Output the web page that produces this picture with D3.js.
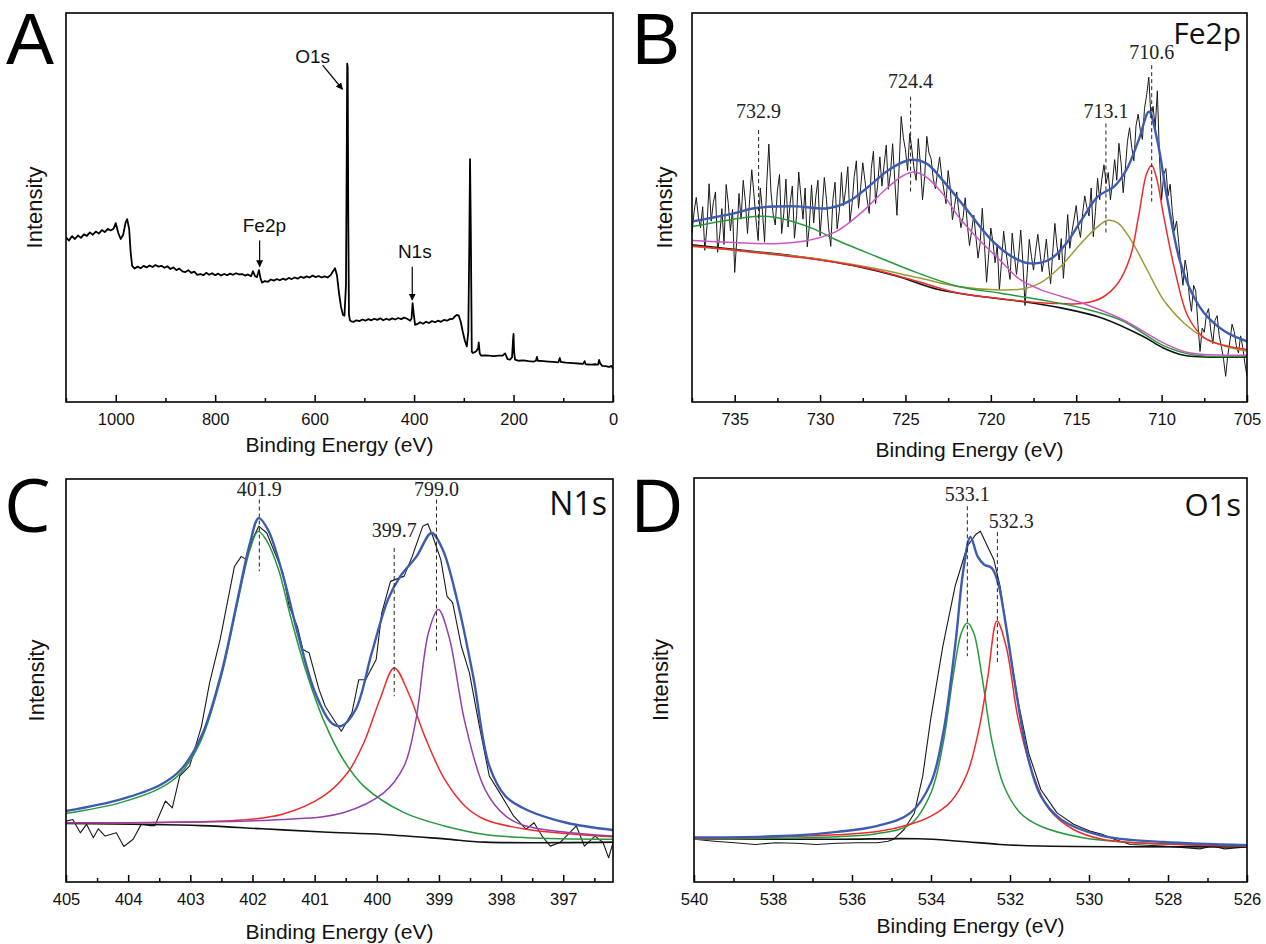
<!DOCTYPE html>
<html>
<head>
<meta charset="utf-8">
<script src="https://cdn.jsdelivr.net/npm/d3@7"></script>
<style>
  body { margin: 0; background: #fff; }
  svg { display: block; }
</style>
</head>
<body>
<div id="chart"></div>
<script>
// ---- Panel A: survey spectrum, [binding energy, intensity] ----
var surveyData = [
  [1100,42.3],[1094,41.5],[1088,42.6],[1082,41.9],[1076,42.8],[1070,42.2],[1064,43.1],[1058,42.7],
  [1052,43.6],[1046,43.0],[1040,43.8],[1034,43.3],[1028,44.2],[1022,43.7],[1016,44.5],[1010,44.1],
  [1004,44.6],[1000,46.0],[995,43.5],[990,41.9],[985,43.0],[980,46.2],[977,47.0],[973,44.5],
  [970,38.5],[967,35.0],[962,34.3],[956,34.8],[950,34.4],[944,35.0],[938,34.6],[932,35.1],
  [926,34.7],[920,35.2],[914,34.8],[908,35.0],[902,34.5],[896,34.9],[890,34.2],[884,34.6],
  [878,33.9],[872,34.3],[866,33.6],[860,33.4],[854,33.9],[848,33.2],[842,33.5],[836,32.7],
  [830,32.9],[824,32.6],[818,33.2],[812,32.7],[806,33.1],[800,32.6],[794,33.0],[788,32.5],
  [782,32.9],[776,32.6],[770,33.0],[764,32.7],[758,33.1],[752,32.8],[746,32.9],[740,32.5],
  [734,32.8],[728,32.3],[724,33.6],[720,32.4],[716,32.1],[712,33.9],[709,31.9],[706,30.7],
  [700,31.1],[694,30.9],[688,31.5],[682,31.2],[676,31.6],[670,31.3],[664,31.7],[658,31.4],
  [652,31.9],[646,31.6],[640,32.0],[634,31.7],[628,32.2],[622,31.9],[616,32.3],[610,32.0],
  [604,32.5],[598,32.1],[592,32.4],[586,32.0],[580,32.3],[574,32.0],[568,32.6],[563,33.6],
  [559,34.4],[555,32.5],[551,28.0],[547,24.5],[543,22.4],[540,22.2],[537,30.0],[535.5,62.0],
  [534.5,87.0],[533.5,86.0],[532.5,50.0],[531,22.5],[529,21.0],[526,20.7],[522,20.6],[516,21.0],
  [510,20.8],[504,21.2],[498,20.9],[492,21.3],[486,21.0],[480,21.4],[474,21.1],[468,21.5],
  [462,21.0],[456,21.4],[450,21.1],[444,21.5],[438,21.2],[432,21.6],[426,21.3],[420,21.7],
  [414,21.4],[408,20.9],[405,21.5],[403,25.4],[401,23.0],[398,19.8],[394,20.0],[388,20.5],
  [382,20.1],[376,20.6],[370,20.3],[364,20.8],[358,20.5],[352,20.9],[346,20.6],[340,21.1],
  [334,20.9],[328,21.3],[322,21.4],[318,22.0],[314,22.4],[310,22.2],[306,20.5],[302,18.0],
  [298,15.8],[294,14.3],[291,18.0],[289,40.0],[287.5,62.4],[286,45.0],[284,13.0],[282,12.6],
  [278,12.8],[274,13.2],[271,14.0],[270,15.3],[268,12.5],[265,11.9],[258,12.0],[250,11.9],
  [240,11.8],[230,11.9],[222,11.9],[217,12.5],[212,11.0],[207,10.9],[203,11.5],[201,16.0],
  [200,17.5],[199,13.0],[197,10.9],[190,10.6],[180,10.7],[170,10.5],[160,10.4],[155,10.6],
  [153,11.6],[151,10.6],[140,10.5],[130,10.4],[120,10.3],[110,10.2],[107,11.3],[105,10.3],
  [95,10.1],[80,10.0],[70,9.9],[60,9.8],[57,10.5],[55,9.7],[45,9.6],[35,9.7],[30,9.6],
  [28,10.8],[26,10.0],[22,9.3],[15,9.2],[8,9.0],[3,9.3],[0,8.5]
];
// survey annotations: label, label position, arrow start, arrow tip (data units)
var surveyLabels = [
  {text: "O1s",  lx: 604, ly: 87.1, from: [584, 86.6], to: [544, 80.4]},
  {text: "Fe2p", lx: 701, ly: 43.8, from: [710.6, 41.5], to: [710.6, 34.8]},
  {text: "N1s",  lx: 398.6, ly: 37.0, from: [403.7, 34.8], to: [403.7, 26.2]}
];

// ---- Panel B: Fe2p ----
var fe2pRaw = [
  [737.5,43.4],[737.375,49.0],[737.25,52.6],[737.125,47.5],[737,44.8],[736.875,50.2],[736.75,39.0],[736.625,45.0],
  [736.5,56.1],[736.375,46.5],[736.25,51.3],[736.125,54.0],[736,38.5],[735.875,43.0],[735.75,49.7],[735.625,40.5],
  [735.5,55.9],[735.375,51.0],[735.25,44.0],[735.125,49.5],[735,33.3],[734.875,42.0],[734.75,53.6],[734.625,47.0],
  [734.5,57.0],[734.375,51.5],[734.25,43.3],[734.125,52.0],[734,59.7],[733.875,53.5],[733.75,46.8],[733.625,41.5],
  [733.5,55.0],[733.375,49.0],[733.25,41.1],[733.125,56.0],[733,66.3],[732.875,54.0],[732.75,48.3],[732.625,45.5],
  [732.5,54.3],[732.375,58.5],[732.25,43.3],[732.125,48.5],[732,57.3],[731.875,45.0],[731.75,51.2],[731.625,55.5],
  [731.5,42.1],[731.375,48.0],[731.25,59.1],[731.125,53.0],[731,47.0],[730.875,55.0],[730.75,39.9],[730.625,45.5],
  [730.5,55.8],[730.375,46.0],[730.25,52.8],[730.125,57.0],[730,42.7],[729.875,50.0],[729.75,57.7],[729.625,52.0],
  [729.5,44.8],[729.375,40.0],[729.25,52.0],[729.125,56.5],[729,44.5],[728.875,49.0],[728.75,59.0],[728.625,50.5],
  [728.5,54.7],[728.375,60.5],[728.25,46.3],[728.125,51.0],[728,58.0],[727.875,62.0],[727.75,49.8],[727.625,55.0],
  [727.5,61.5],[727.375,57.0],[727.25,52.2],[727.125,48.5],[727,60.0],[726.875,64.5],[726.75,51.0],[726.625,56.0],
  [726.5,63.0],[726.375,55.5],[726.25,61.0],[726.125,66.0],[726,54.7],[725.875,59.0],[725.75,66.4],[725.625,57.0],
  [725.5,48.0],[725.375,60.0],[725.25,73.4],[725.125,68.0],[725,64.8],[724.875,59.5],[724.75,69.0],[724.625,65.0],
  [724.5,60.1],[724.375,57.0],[724.25,67.7],[724.125,61.0],[724,52.0],[723.875,58.0],[723.75,68.3],[723.625,64.0],
  [723.5,62.6],[723.375,57.5],[723.25,54.8],[723.125,59.0],[723,63.0],[722.875,58.0],[722.75,54.5],[722.625,51.0],
  [722.5,59.5],[722.375,55.0],[722.25,46.8],[722.125,50.5],[722,54.0],[721.875,49.0],[721.75,44.8],[721.625,47.5],
  [721.5,52.5],[721.375,45.5],[721.25,40.2],[721.125,44.0],[721,48.0],[720.875,42.5],[720.75,37.0],[720.625,41.0],
  [720.5,49.8],[720.375,40.5],[720.25,30.8],[720.125,38.0],[720,44.7],[719.875,41.0],[719.75,35.8],[719.625,40.5],
  [719.5,28.8],[719.375,36.0],[719.25,43.9],[719.125,39.0],[719,35.0],[718.875,31.5],[718.75,43.4],[718.625,38.0],
  [718.5,32.8],[718.375,37.5],[718.25,44.2],[718.125,36.0],[718,24.8],[717.875,33.0],[717.75,41.8],[717.625,37.5],
  [717.5,33.9],[717.375,39.0],[717.25,43.1],[717.125,38.5],[717,33.5],[716.875,37.0],[716.75,41.9],[716.625,35.5],
  [716.5,30.4],[716.375,38.5],[716.25,45.9],[716.125,40.0],[716,36.5],[715.875,42.0],[715.75,31.8],[715.625,40.0],
  [715.5,48.2],[715.375,39.5],[715.25,43.8],[715.125,47.0],[715,50.5],[714.875,45.0],[714.75,42.3],[714.625,48.5],
  [714.5,53.0],[714.375,50.0],[714.25,47.8],[714.125,55.0],[714,42.5],[713.875,49.0],[713.75,57.5],[713.625,52.0],
  [713.5,57.3],[713.375,61.0],[713.25,56.2],[713.125,59.0],[713,52.0],[712.875,56.5],[712.75,62.3],[712.625,57.0],
  [712.5,66.5],[712.375,61.5],[712.25,53.8],[712.125,60.0],[712,67.0],[711.875,70.5],[711.75,65.5],[711.625,62.0],
  [711.5,71.0],[711.375,74.0],[711.25,70.0],[711.125,67.5],[711,75.5],[710.875,79.0],[710.75,83.5],[710.625,73.0],
  [710.5,76.0],[710.375,70.5],[710.25,80.0],[710.125,63.0],[710,52.0],[709.875,58.5],[709.75,60.0],[709.625,53.0],
  [709.5,56.0],[709.375,49.0],[709.25,44.0],[709.125,46.5],[709,41.0],[708.875,35.0],[708.75,30.0],[708.625,36.5],
  [708.5,33.5],[708.375,27.0],[708.25,23.3],[708.125,30.0],[708,28.5],[707.875,20.0],[707.75,13.0],[707.625,19.0],
  [707.5,17.9],[707.375,22.5],[707.25,24.0],[707.125,18.5],[707,15.0],[706.875,21.0],[706.75,22.2],[706.625,17.0],
  [706.5,14.3],[706.375,11.0],[706.25,6.6],[706.125,12.0],[706,15.7],[705.875,20.0],[705.75,18.1],[705.625,14.5],
  [705.5,12.6],[705.375,17.0],[705.25,14.1],[705.125,10.0],[705,6.6]
];
var fe2pBackground = [[737.5,40.4],[733.86,38.7],[730.27,36.8],[727.87,34.9],[725.48,32.3],[723.08,28.9],
  [720.69,27.2],[718.29,25.9],[715.9,24.2],[713.5,21.6],[711.1,16.9],[709.9,13.9],[708.7,12.0],[707.5,11.6],[705,11.6]];
var fe2pPeak7329 = [[737.5,45.1],[736.25,46.1],[733.86,47.7],[732.66,47.5],[731.46,46.2],[730.27,44.3],[729.07,41.7],
  [726.7,37.4],[724.3,33.2],[721.9,29.7],[719.5,28.0],[717.1,26.3],[714.7,24.2],[712.3,20.9],[709.9,14.5],[708,12.0],[705,11.8]];
var fe2pPeak7244 = [[737.5,41.5],[735.05,41.0],[732.66,40.7],[730.98,41.3],[729.07,43.8],[727.63,48.5],[726.2,54.5],
  [725.24,57.9],[724.52,59.1],[723.8,57.9],[722.85,53.7],[721.9,47.7],[720.69,41.7],[719.5,36.6],[718.3,31.5],
  [717.1,28.9],[715.9,27.2],[714.7,25.5],[712.3,21.2],[709.9,15.2],[708.7,13.0],[707.5,12.2],[705,12.0]];
var fe2pPeak7131 = [[737.5,40.0],[734,38.6],[730,36.7],[727,34.5],[724.3,32.0],[721.9,29.7],[719.5,28.8],[718.05,29.1],
  [717.1,30.6],[715.9,34.9],[714.7,40.9],[713.74,45.1],[713.14,46.7],[712.55,46.0],[711.8,41.7],[710.85,34.0],
  [709.9,26.3],[708.7,20.3],[707.5,16.5],[706.3,14.4],[705,13.1]];
var fe2pPeak7106 = [[737.5,40.2],[734,38.5],[730,36.5],[727,34.2],[724.3,31.0],[721.9,28.0],[719.5,26.6],[717.1,25.5],
  [715.9,25.3],[714.7,25.3],[713.5,26.8],[712.55,30.6],[711.83,37.4],[711.35,47.7],[710.87,58.8],[710.58,60.8],
  [710.27,57.1],[709.91,48.5],[709.19,33.2],[708.47,22.1],[707.5,16.5],[706.3,14.5],[705,13.5]];
var fe2pEnvelope = [[737.5,46.4],[735.05,48.5],[733.86,49.8],[731.46,50.3],[729.55,49.8],[728.35,51.5],[727.15,55.4],
  [725.96,59.7],[724.76,62.2],[723.8,61.4],[722.84,57.1],[721.4,49.4],[719.97,41.7],[718.77,37.4],[717.81,35.7],
  [716.61,36.5],[715.65,40.4],[714.69,46.8],[713.74,52.8],[712.78,55.4],[712.06,59.7],[711.34,67.4],[710.74,74.6],
  [710.26,67.4],[709.66,52.0],[708.95,36.6],[708.23,28.0],[707.51,22.9],[706.31,18.2],[705,15.6]];
var fe2pMarks = [
  {text: "732.9", be: 733.6, top: 69.9, bottom: 44.3, ty: 73.0},
  {text: "724.4", be: 724.7, top: 78.5, bottom: 54.1, ty: 80.6},
  {text: "713.1", be: 713.26, top: 71.6, bottom: 43.4, ty: 72.9},
  {text: "710.6", be: 710.58, top: 86.6, bottom: 51.5, ty: 88.3}
];

// ---- Panel C: N1s ----
var n1sRaw = [
  [405,15.1],[404.89,15.5],[404.77,12.2],[404.67,14.3],[404.56,11.0],[404.48,13.2],[404.37,11.4],[404.19,12.2],
  [404.07,8.8],[403.92,10.6],[403.79,14.3],[403.66,14.0],[403.57,14.0],[403.4,20.1],[403.29,18.4],[403.17,26.3],
  [403.01,28.8],[402.82,38.7],[402.69,49.4],[402.52,60.2],[402.29,78.3],[402.18,80.8],[402.1,80.0],[402,85.0],
  [401.9,88.3],[401.77,86.6],[401.51,76.7],[401.41,68.4],[401.28,63.5],[401.19,57.7],[401.09,56.9],[400.93,47.8],
  [400.83,43.6],[400.73,41.2],[400.57,37.4],[400.4,42.0],[400.29,50.2],[400.18,50.2],[400.01,55.2],[399.92,66.8],
  [399.78,74.6],[399.56,75.9],[399.43,80.8],[399.26,88.3],[399.18,88.9],[399.1,85.8],[398.97,80.0],[398.87,70.9],
  [398.78,69.3],[398.64,58.5],[398.51,51.9],[398.35,38.7],[398.19,26.3],[397.99,21.3],[397.8,16.4],[397.6,13.1],
  [397.47,14.7],[397.34,11.4],[397.21,8.9],[397.05,9.8],[396.95,11.4],[396.79,13.9],[396.66,8.9],[396.49,11.4],
  [396.36,9.8],[396.27,6.0],[396.2,9.8]
];
var n1sBackground = [[405,14.5],[402.82,14.0],[401.84,13.2],[400.86,12.4],[399.89,11.8],[398.91,10.7],[398.26,9.9],[396.2,9.9]];
var n1sPeak4019 = [[405,17.0],[404.12,19.7],[403.47,23.4],[403.15,27.1],[402.82,35.4],[402.5,51.1],[402.24,69.3],
  [402.04,82.5],[401.91,87.0],[401.78,84.9],[401.58,77.5],[401.39,66.0],[401.13,51.9],[400.86,40.3],[400.54,30.4],
  [400.21,23.8],[399.56,17.2],[398.91,13.9],[398.26,11.8],[397.6,11.0],[396.2,10.6]];
var n1sPeak3997 = [[405,14.7],[402.17,15.4],[401.52,16.8],[400.86,21.3],[400.47,27.1],[400.21,34.5],[399.95,45.3],
  [399.72,53.1],[399.49,46.9],[399.23,36.2],[398.91,25.5],[398.58,18.8],[398.26,15.5],[397.6,13.1],[396.2,11.2]];
var n1sPeak3990 = [[405,14.7],[401.52,15.5],[400.54,17.2],[399.89,22.1],[399.56,28.8],[399.37,40.3],[399.17,61.8],
  [399.01,67.6],[398.84,61.0],[398.58,39.5],[398.26,23.0],[397.93,16.4],[397.6,13.9],[396.2,11.4]];
var n1sEnvelope = [[405,17.6],[404.12,20.5],[403.47,24.2],[403.15,27.9],[402.82,36.2],[402.5,51.9],[402.24,70.1],
  [402.04,84.1],[401.9,90.3],[401.75,87.4],[401.52,76.7],[401.26,61.0],[400.99,46.9],[400.73,39.5],[400.57,38.7],
  [400.34,42.8],[400.08,56.9],[399.82,70.1],[399.62,75.9],[399.36,80.8],[399.12,86.6],[398.94,82.5],[398.71,70.1],
  [398.45,51.1],[398.19,28.8],[397.93,21.3],[397.6,18.0],[396.95,14.7],[396.2,12.9]];
var n1sMarks = [
  {text: "401.9", be: 401.89, top: 94.9, bottom: 77.1, ty: 95.7},
  {text: "799.0", be: 399.04, top: 94.9, bottom: 56.9, ty: 95.7},
  {text: "399.7", be: 399.72, top: 82.9, bottom: 46.1, ty: 85.6}
];

// ---- Panel D: O1s ----
var o1sRaw = [
  [540,10.6],[539.48,10.1],[538.97,9.7],[538.45,9.3],[537.93,9.7],[537.42,9.6],[536.9,9.3],[536.38,9.6],
  [535.87,9.7],[535.35,9.7],[535.09,10.1],[534.94,10.6],[534.68,13.0],[534.42,17.1],[534.21,26.2],[534.01,40.2],
  [533.7,58.4],[533.39,73.2],[533.08,83.1],[532.87,86.0],[532.75,86.8],[532.61,83.9],[532.41,79.8],[532.25,73.2],
  [532.05,60.0],[531.79,44.4],[531.53,32.0],[531.22,22.9],[530.81,17.1],[530.39,14.3],[529.98,12.6],[529.67,11.8],
  [529.36,10.6],[528.95,9.3],[528.12,8.9],[527.19,8.2],[526.88,8.9],[526.57,8.2],[526,8.7]
];
var o1sBackground = [[540,10.6],[536.38,10.6],[534.32,10.7],[533.29,10.1],[532.25,9.3],[531.22,8.9],[526,8.7]];
var o1sPeak5331 = [[540,10.6],[536.38,11.2],[535.35,12.0],[534.52,14.3],[534,22.1],[533.69,34.5],[533.44,50.9],
  [533.23,61.7],[533.08,64.1],[532.92,61.7],[532.71,50.9],[532.45,34.5],[532.15,23.7],[531.74,17.1],[531.22,13.8],
  [530.19,11.0],[529.16,9.9],[526,8.9]];
var o1sPeak5323 = [[540,10.7],[536.38,11.7],[535.35,12.5],[534.52,14.3],[534,16.3],[533.49,20.0],[533.08,27.0],
  [532.77,38.6],[532.56,50.9],[532.33,64.6],[532.1,58.4],[531.79,40.2],[531.43,27.0],[531.01,18.0],[530.39,13.0],
  [529.67,10.6],[528.12,9.4],[526,8.9]];
var o1sEnvelope = [[540,11.0],[537.42,11.5],[536.38,12.4],[535.35,13.9],[534.52,17.1],[534,24.6],[533.69,36.9],
  [533.38,59.2],[533.18,77.3],[533,85.4],[532.82,80.6],[532.66,78.6],[532.46,77.7],[532.3,74.0],[532.1,63.3],
  [531.84,46.8],[531.53,30.3],[531.22,21.3],[530.71,15.5],[529.67,11.4],[528.12,9.9],[526,9.1]];
var o1sMarks = [
  {text: "533.1", be: 533.08, top: 93.0, bottom: 55.9, ty: 94.2},
  {text: "532.3", be: 532.32, top: 86.6, bottom: 54.2, ty: 87.6, dx: 14}
];

// ---- axis ticks ----
var surveyTicks = [1000, 800, 600, 400, 200, 0];
var surveyMinor = [1100, 900, 700, 500, 300, 100];
var fe2pTicks = [735, 730, 725, 720, 715, 710, 705];
var fe2pMinor = [737.5, 732.5, 727.5, 722.5, 717.5, 712.5, 707.5];
var n1sTicks = [405, 404, 403, 402, 401, 400, 399, 398, 397];
var n1sMinor = [404.5, 403.5, 402.5, 401.5, 400.5, 399.5, 398.5, 397.5, 396.5];
var o1sTicks = [540, 538, 536, 534, 532, 530, 528, 526];
var o1sMinor = [539, 537, 535, 533, 531, 529, 527];

// ---- colours ----
var COLORS = {
  raw: "#1a1a1a", bg: "#111", blue: "#3d5cb0", green: "#259a3c", red: "#ee2b2b",
  magenta: "#cc57c4", olive: "#9c9a35", purple: "#9440a8"
};

var SANS = "'Liberation Sans', Arial, sans-serif";
var SERIF = "'Liberation Serif', 'Times New Roman', serif";
var OPEN = "'Open Sans', 'Liberation Sans', sans-serif";

var svg = d3.select("#chart").append("svg")
  .attr("width", 1266).attr("height", 944)
  .style("background", "#fff");

var defs = svg.append("defs");
defs.append("marker")
  .attr("id", "arrow")
  .attr("viewBox", "0 0 10 10")
  .attr("refX", 9).attr("refY", 5)
  .attr("markerWidth", 7).attr("markerHeight", 7)
  .attr("markerUnits", "userSpaceOnUse")
  .attr("orient", "auto")
  .append("path").attr("d", "M0,0 L10,5 L0,10 z").attr("fill", "#000");

/**
 * Renders a single panel frame, axis and returns its scales
 */
function renderPanel(cfg) {
  var x = d3.scaleLinear().domain(cfg.domain).range([cfg.left, cfg.right]);
  var y = d3.scaleLinear().domain([0, 100]).range([cfg.bottom, cfg.top]);
  var g = svg.append("g");

  var clipId = "clip-" + cfg.id;
  defs.append("clipPath").attr("id", clipId)
    .append("rect")
    .attr("x", cfg.left).attr("y", cfg.top)
    .attr("width", cfg.right - cfg.left).attr("height", cfg.bottom - cfg.top);

  var plot = g.append("g").attr("clip-path", "url(#" + clipId + ")");

  // major ticks with labels (inward)
  var major = g.append("g")
    .attr("transform", "translate(0," + cfg.bottom + ")")
    .call(d3.axisBottom(x).tickValues(cfg.ticks).tickSize(-7).tickPadding(11).tickFormat(d3.format("d")));
  major.select(".domain").remove();
  major.selectAll("line").attr("stroke", "#000").attr("stroke-width", 1.5);
  major.selectAll("text")
    .attr("font-family", SANS).attr("font-size", 16.5).attr("fill", "#111");

  // minor ticks
  var minor = g.append("g")
    .attr("transform", "translate(0," + cfg.bottom + ")")
    .call(d3.axisBottom(x).tickValues(cfg.minor).tickSize(-4).tickFormat(""));
  minor.select(".domain").remove();
  minor.selectAll("line").attr("stroke", "#000").attr("stroke-width", 1.5);

  // frame
  g.append("rect")
    .attr("x", cfg.left).attr("y", cfg.top)
    .attr("width", cfg.right - cfg.left).attr("height", cfg.bottom - cfg.top)
    .attr("fill", "none").attr("stroke", "#000").attr("stroke-width", 1.6);

  // axis titles
  g.append("text")
    .attr("x", (cfg.left + cfg.right) / 2).attr("y", cfg.titleY)
    .attr("text-anchor", "middle")
    .attr("font-family", SANS).attr("font-size", 21).attr("fill", "#111")
    .text("Binding Energy (eV)");

  g.append("text")
    .attr("transform", "translate(" + cfg.yTitleX + "," + ((cfg.top + cfg.bottom) / 2) + ") rotate(-90)")
    .attr("text-anchor", "middle")
    .attr("font-family", SANS).attr("font-size", 22).attr("fill", "#111")
    .text("Intensity");

  // panel letter
  g.append("text")
    .attr("x", cfg.letterX).attr("y", cfg.letterY)
    .attr("font-family", cfg.letterFont).attr("font-size", cfg.letterSize).attr("fill", "#000")
    .text(cfg.letter);

  // element label in the corner
  if (cfg.element) {
    g.append("text")
      .attr("x", cfg.right - 6).attr("y", cfg.elementY)
      .attr("text-anchor", "end")
      .attr("font-family", OPEN).attr("font-size", cfg.elementSize).attr("fill", "#111")
      .text(cfg.element);
  }

  return {x: x, y: y, g: g, plot: plot};
}

function drawLine(p, data, color, width, curve) {
  var line = d3.line()
    .x(function(d) { return p.x(d[0]); })
    .y(function(d) { return p.y(d[1]); })
    .curve(curve || d3.curveLinear);
  p.plot.append("path")
    .datum(data)
    .attr("fill", "none")
    .attr("stroke", color)
    .attr("stroke-width", width)
    .attr("stroke-linejoin", "round")
    .attr("d", line);
}

function drawMarks(p, marks) {
  marks.forEach(function(m) {
    p.g.append("line")
      .attr("x1", p.x(m.be)).attr("x2", p.x(m.be))
      .attr("y1", p.y(m.top)).attr("y2", p.y(m.bottom))
      .attr("stroke", "#222").attr("stroke-width", 1)
      .attr("stroke-dasharray", "4,3");
    p.g.append("text")
      .attr("x", p.x(m.be) + (m.dx || 0)).attr("y", p.y(m.ty))
      .attr("text-anchor", "middle")
      .attr("font-family", SERIF).attr("font-size", 20).attr("fill", "#222")
      .text(m.text);
  });
}

var smooth = d3.curveCatmullRom.alpha(0.5);

// ---- A ----
var pA = renderPanel({
  id: "a", domain: [1100, 0], left: 66, right: 613, top: 13, bottom: 402,
  ticks: surveyTicks, minor: surveyMinor, titleY: 452, yTitleX: 42,
  letter: "A", letterX: 6, letterY: 64, letterFont: SANS, letterSize: 72
});
drawLine(pA, surveyData, "#000", 1.8);
surveyLabels.forEach(function(l) {
  pA.g.append("text")
    .attr("x", pA.x(l.lx)).attr("y", pA.y(l.ly))
    .attr("text-anchor", "middle")
    .attr("font-family", SANS).attr("font-size", 19).attr("fill", "#111")
    .text(l.text);
  pA.g.append("line")
    .attr("x1", pA.x(l.from[0])).attr("y1", pA.y(l.from[1]))
    .attr("x2", pA.x(l.to[0])).attr("y2", pA.y(l.to[1]))
    .attr("stroke", "#000").attr("stroke-width", 1.2)
    .attr("marker-end", "url(#arrow)");
});

// ---- B ----
var pB = renderPanel({
  id: "b", domain: [737.5, 705], left: 692, right: 1247, top: 13, bottom: 402,
  ticks: fe2pTicks, minor: fe2pMinor, titleY: 457, yTitleX: 672,
  letter: "B", letterX: 632, letterY: 64, letterFont: SANS, letterSize: 72,
  element: "Fe2p", elementY: 44, elementSize: 30
});
drawLine(pB, fe2pRaw, COLORS.raw, 1.0);
drawLine(pB, fe2pBackground, COLORS.bg, 1.6, smooth);
drawLine(pB, fe2pPeak7131, COLORS.olive, 1.5, smooth);
drawLine(pB, fe2pPeak7106, COLORS.red, 1.5, smooth);
drawLine(pB, fe2pPeak7329, COLORS.green, 1.5, smooth);
drawLine(pB, fe2pPeak7244, COLORS.magenta, 1.5, smooth);
drawLine(pB, fe2pEnvelope, COLORS.blue, 2.4, smooth);
drawMarks(pB, fe2pMarks);

// ---- C ----
var pC = renderPanel({
  id: "c", domain: [405, 396.2], left: 66, right: 613, top: 479, bottom: 882,
  ticks: n1sTicks, minor: n1sMinor, titleY: 939, yTitleX: 44,
  letter: "C", letterX: 4, letterY: 532, letterFont: OPEN, letterSize: 74,
  element: "N1s", elementY: 515, elementSize: 32
});
drawLine(pC, n1sRaw, COLORS.raw, 1.1);
drawLine(pC, n1sBackground, COLORS.bg, 1.6, smooth);
drawLine(pC, n1sPeak4019, COLORS.green, 1.5, smooth);
drawLine(pC, n1sPeak3997, COLORS.red, 1.5, smooth);
drawLine(pC, n1sPeak3990, COLORS.purple, 1.5, smooth);
drawLine(pC, n1sEnvelope, COLORS.blue, 2.4, smooth);
drawMarks(pC, n1sMarks);

// ---- D ----
var pD = renderPanel({
  id: "d", domain: [540, 526], left: 694, right: 1247, top: 478, bottom: 882,
  ticks: o1sTicks, minor: o1sMinor, titleY: 933, yTitleX: 668,
  letter: "D", letterX: 630, letterY: 532, letterFont: OPEN, letterSize: 74,
  element: "O1s", elementY: 516, elementSize: 31
});
drawLine(pD, o1sRaw, COLORS.raw, 1.1);
drawLine(pD, o1sBackground, COLORS.bg, 1.6, smooth);
drawLine(pD, o1sPeak5331, COLORS.green, 1.5, smooth);
drawLine(pD, o1sPeak5323, COLORS.red, 1.5, smooth);
drawLine(pD, o1sEnvelope, COLORS.blue, 2.4, smooth);
drawMarks(pD, o1sMarks);
</script>
</body>
</html>
